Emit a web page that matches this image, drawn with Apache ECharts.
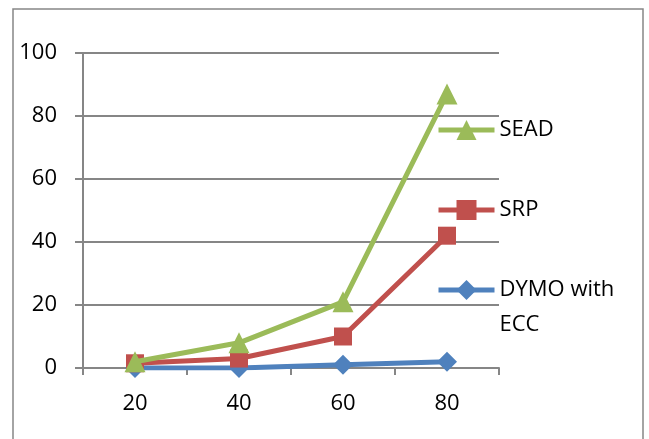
<!DOCTYPE html>
<html>
<head>
<meta charset="utf-8">
<script src="https://cdn.jsdelivr.net/npm/echarts@6/dist/echarts.min.js"></script>
<style>html,body{margin:0;padding:0;background:#fff}#c{width:649px;height:439px}</style>
</head>
<body>
<div id="c"></div>
<script>
const categories = ['20', '40', '60', '80'];
const seadValues = [2, 8, 21, 87];
const srpValues = [1.5, 3, 10, 42];
const dymoValues = [0, 0, 1, 2];
const yTicks = [0, 20, 40, 60, 80, 100];

const FONT = 'Open Sans';
const GRAY = '#868686';
const chart = echarts.init(document.getElementById('c'), null, {renderer: 'canvas'});

function legendFor(name, top, extra) {
  return Object.assign({
    data: [name],
    left: 436, top: top,
    padding: 0,
    itemWidth: 56, itemHeight: 25,
    itemGap: 4,
    selectedMode: false,
    lineStyle: {width: 5},
    textStyle: {fontFamily: FONT, fontSize: 22, color: '#000', lineHeight: 30}
  }, extra || {});
}

chart.setOption({
  animation: false,
  backgroundColor: '#fff',
  grid: {left: 83, right: 150, top: 53, bottom: 71, containLabel: false},
  graphic: [{
    type: 'rect', shape: {x: 13, y: 9, width: 630, height: 440},
    style: {fill: 'none', stroke: GRAY, lineWidth: 1.5}, silent: true, z: -10
  }],
  legend: [
    legendFor('SEAD', 115),
    legendFor('SRP', 195),
    legendFor('DYMO with ECC', 237.5, {
      formatter: function () { return '\u00A0\nDYMO with\nECC'; },
      textStyle: {fontFamily: FONT, fontSize: 22, color: '#000', lineHeight: 35}
    })
  ],
  xAxis: {
    type: 'category', data: categories, boundaryGap: true,
    axisLine: {lineStyle: {color: GRAY, width: 2}},
    axisTick: {show: true, length: 7, lineStyle: {color: GRAY, width: 2}},
    axisLabel: {fontFamily: FONT, fontSize: 22, color: '#000', margin: 25}
  },
  yAxis: {
    type: 'value', min: 0, max: 100, interval: 20,
    axisLine: {show: true, lineStyle: {color: GRAY, width: 2}},
    axisTick: {show: true, length: 8, lineStyle: {color: GRAY, width: 2}},
    splitLine: {lineStyle: {color: GRAY, width: 2}},
    axisLabel: {fontFamily: FONT, fontSize: 22, color: '#000', margin: 26,
      formatter: function (v) { return yTicks.indexOf(v) >= 0 ? String(v) : ''; }}
  },
  series: [
    {name: 'DYMO with ECC', type: 'line', data: dymoValues, symbol: 'diamond', symbolSize: 20,
      lineStyle: {color: '#4F81BD', width: 5}, itemStyle: {color: '#4F81BD'}, z: 2},
    {name: 'SRP', type: 'line', data: srpValues, symbol: 'rect', symbolSize: 18,
      lineStyle: {color: '#C0504D', width: 5}, itemStyle: {color: '#C0504D'}, z: 3},
    {name: 'SEAD', type: 'line', data: seadValues, symbol: 'triangle', symbolSize: 21,
      lineStyle: {color: '#9BBB59', width: 5}, itemStyle: {color: '#9BBB59'}, z: 4}
  ]
});
</script>
</body>
</html>
